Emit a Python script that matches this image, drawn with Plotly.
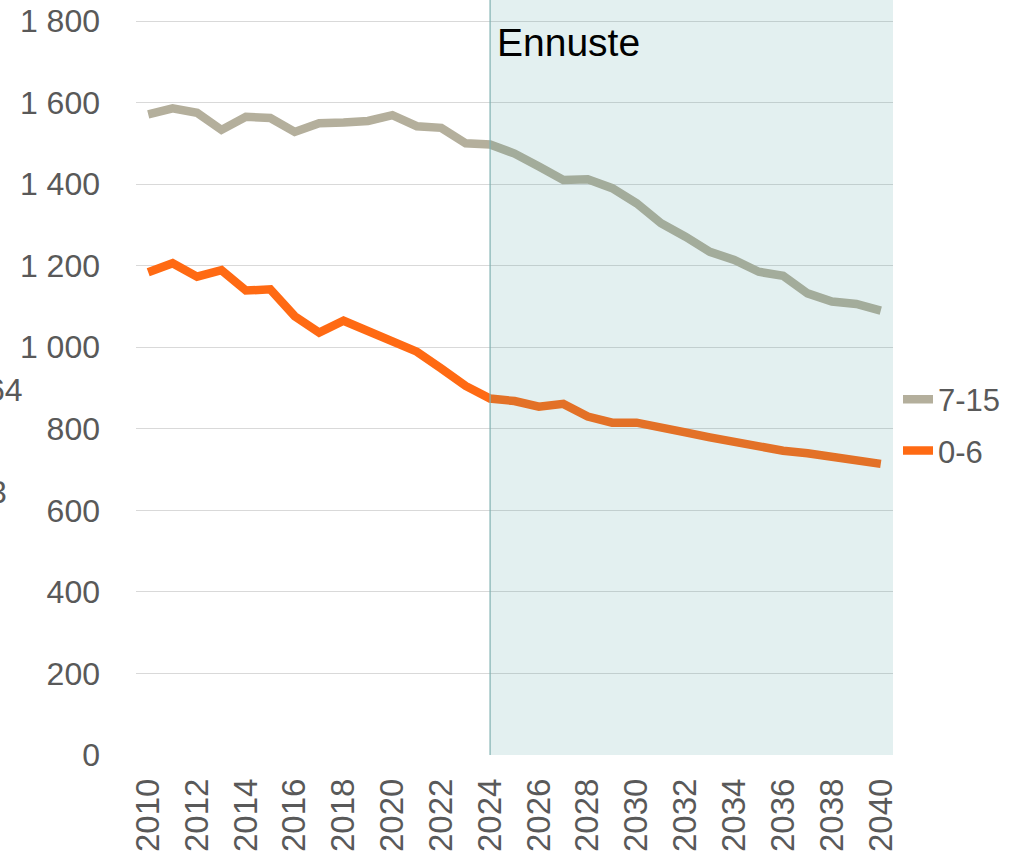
import plotly.graph_objects as go

years = list(range(2010, 2041))
age_7_15 = [1571, 1586, 1575, 1533, 1565, 1562, 1528, 1549, 1551, 1555, 1569, 1542, 1538, 1500, 1497,
            1475, 1443, 1410, 1412, 1390, 1353, 1304, 1271, 1234, 1214, 1185, 1175, 1132, 1112, 1106, 1090]
age_0_6 = [1184, 1206, 1173, 1189, 1139, 1142, 1076, 1036, 1065, 1040, 1013, 989, 948, 905, 874,
           868, 854, 861, 830, 815, 815, 805, 791, 779, 767, 756, 746, 740, 732, 723, 714]
y_ticks = [0, 200, 400, 600, 800, 1000, 1200, 1400, 1600, 1800]
y_tick_text = ["0", "200", "400", "600", "800", "1 000", "1 200", "1 400", "1 600", "1 800"]
x_ticks = list(range(2010, 2041, 2))
forecast_start = 2024

FONT = "Liberation Sans"
GRAY_TXT = "#595959"

fig = go.Figure()
fig.add_trace(go.Scatter(x=years, y=age_7_15, name="7-15", mode="lines", legendgroup="a",
                         line=dict(color="#b4af9c", width=8.5)))
fig.add_trace(go.Scatter(x=years, y=age_0_6, name="0-6", mode="lines", legendgroup="b",
                         line=dict(color="#ff6a13", width=8.5)))

# forecast shading (above traces, translucent)
fig.add_shape(type="rect", xref="x", yref="paper", x0=forecast_start, x1=2040.5, y0=0, y1=1,
              fillcolor="rgb(68,155,155)", opacity=0.15, line=dict(width=0), layer="above")
fig.add_shape(type="line", xref="x", yref="paper", x0=forecast_start, x1=forecast_start, y0=0, y1=1,
              line=dict(color="#7fb0b0", width=1.2), layer="above")

fig.add_annotation(text="Ennuste", xref="x", yref="paper", x=forecast_start + 0.2, y=0.975,
                   xanchor="left", yanchor="top", showarrow=False,
                   font=dict(family=FONT, size=39, color="#000000"))

# labels cut off at the left edge (as in the source image)
fig.add_annotation(text="64", xref="paper", yref="paper", x=(25 - 136) / 757, y=(755 - 390) / 755,
                   xanchor="right", yanchor="middle", showarrow=False,
                   font=dict(family=FONT, size=32, color=GRAY_TXT))
fig.add_annotation(text="3", xref="paper", yref="paper", x=(9 - 136) / 757, y=(755 - 492) / 755,
                   xanchor="right", yanchor="middle", showarrow=False,
                   font=dict(family=FONT, size=32, color=GRAY_TXT))

fig.update_layout(
    width=1022, height=858,
    margin=dict(l=136, r=129, t=0, b=103, autoexpand=False),
    paper_bgcolor="white", plot_bgcolor="white",
    showlegend=True,
    legend=dict(x=1.0 + 5 / 757, xanchor="left", y=(755 - 425) / 755, yanchor="middle",
                font=dict(family=FONT, size=31, color=GRAY_TXT),
                itemwidth=30, tracegroupgap=8, bgcolor="rgba(0,0,0,0)"),
    xaxis=dict(range=[2009.5, 2040.5], tickvals=x_ticks, ticktext=[str(v) for v in x_ticks],
               tickangle=-90, showgrid=False, zeroline=False, showline=False, automargin=False,
               tickfont=dict(family=FONT, size=33, color=GRAY_TXT), ticklabelstandoff=16),
    yaxis=dict(range=[0, 1851.5], tickvals=y_ticks, ticktext=y_tick_text, automargin=False,
               showgrid=True, gridcolor="#d9d9d9", gridwidth=1, zeroline=False, showline=False,
               tickfont=dict(family=FONT, size=32, color=GRAY_TXT), ticklabelstandoff=35),
)

fig.write_html("out.html", config={"displayModeBar": False},
               post_script="document.body.style.margin='0';document.body.style.overflow='hidden';")
